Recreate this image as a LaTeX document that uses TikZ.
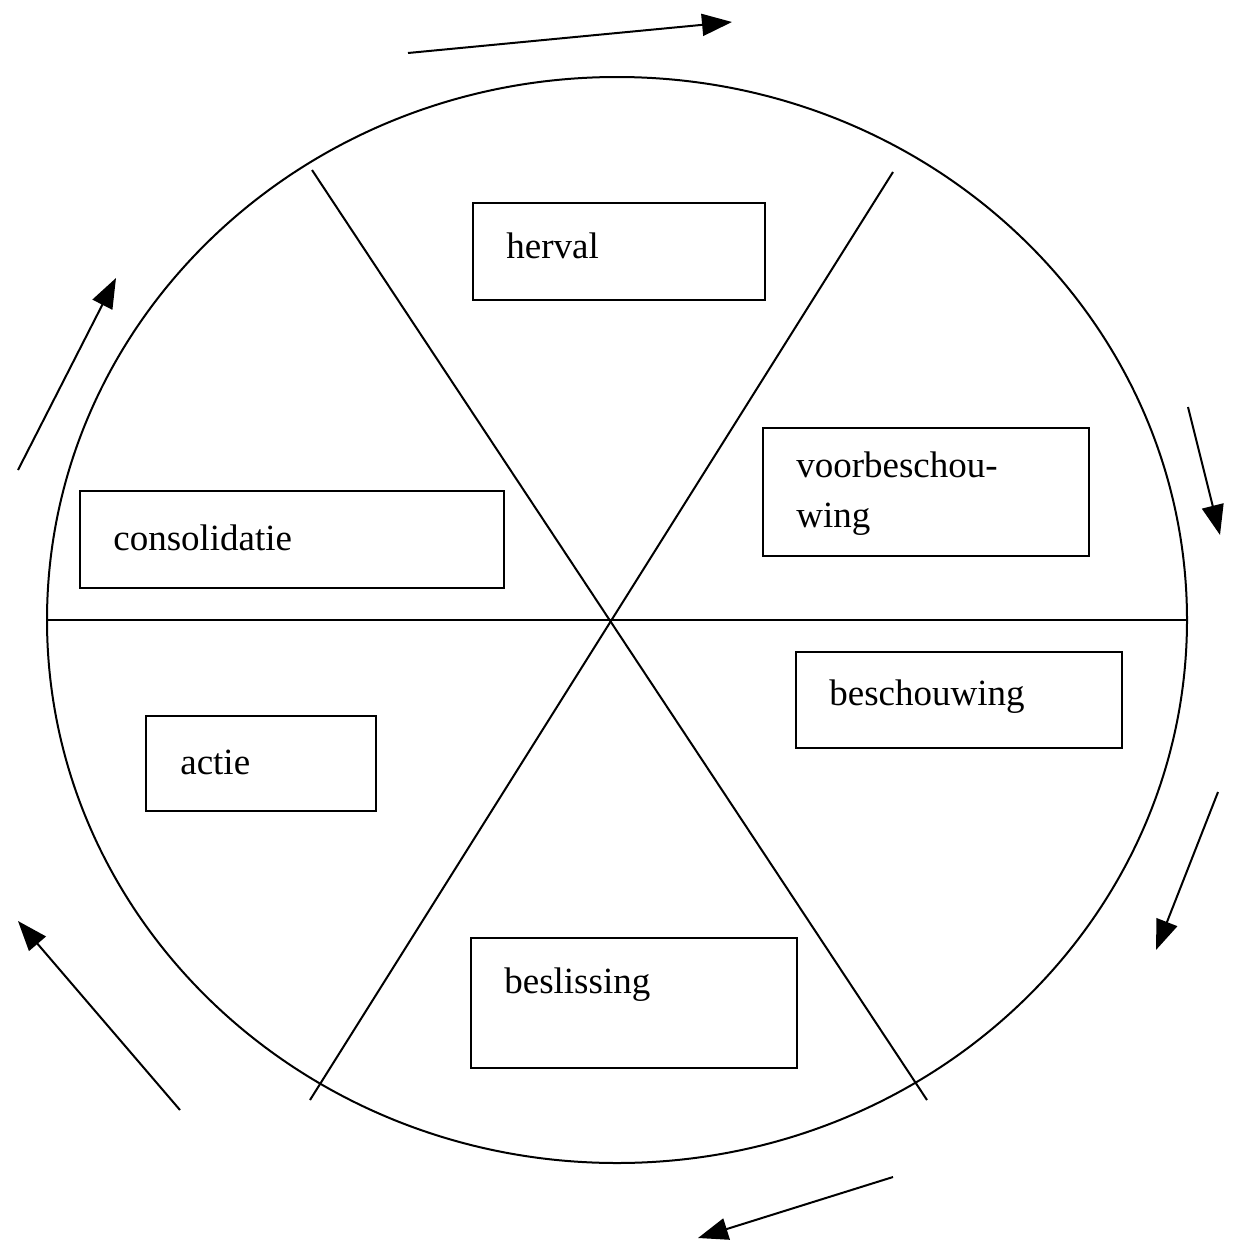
\documentclass[tikz,border=0pt]{standalone}
\usepackage{fontspec}
\setmainfont{Liberation Serif}
\usetikzlibrary{arrows.meta}
\begin{document}
\begin{tikzpicture}[x=1pt,y=-1pt,line width=2pt,
  lbl/.style={anchor=west,font=\fontsize{37}{50}\selectfont,align=left},
  arr/.style={-{Triangle[length=30pt,width=22pt]},line width=2pt}]
\useasboundingbox (0,0) rectangle (1250,1250);
\draw (617,620) ellipse [x radius=570, y radius=543];
\coordinate (L) at (48,620); \coordinate (R) at (1187,620);
\coordinate (A1) at (312,170); \coordinate (A2) at (927,1100);
\coordinate (B1) at (893,172); \coordinate (B2) at (310,1100);
\draw (L) -- (R); \draw (A1) -- (A2); \draw (B1) -- (B2);
\draw (473,203) rectangle (765,300); \node[lbl] (herval) at (502,246) {herval};
\draw (763,428) rectangle (1089,556); \node[lbl] (voor) at (792,494) {voorbeschou-\\wing};
\draw (80,491) rectangle (504,588); \node[lbl] (cons) at (109,538) {consolidatie};
\draw (796,652) rectangle (1122,748); \node[lbl] (besch) at (825,697) {beschouwing};
\draw (146,716) rectangle (376,811); \node[lbl] (actie) at (176,762) {actie};
\draw (471,938) rectangle (797,1068); \node[lbl] (besl) at (500,985) {beslissing};
\coordinate (p1) at (408,53); \coordinate (q1) at (732,22);
\coordinate (p2) at (1188,407); \coordinate (q2) at (1220,535);
\coordinate (p3) at (1218,792); \coordinate (q3) at (1156,950);
\coordinate (p4) at (893,1177); \coordinate (q4) at (698,1238);
\coordinate (p5) at (180,1110); \coordinate (q5) at (18,921);
\coordinate (p6) at (18,470); \coordinate (q6) at (116,278);
\foreach \i in {1,...,6} \draw[arr] (p\i) -- (q\i);
\end{tikzpicture}
\end{document}
